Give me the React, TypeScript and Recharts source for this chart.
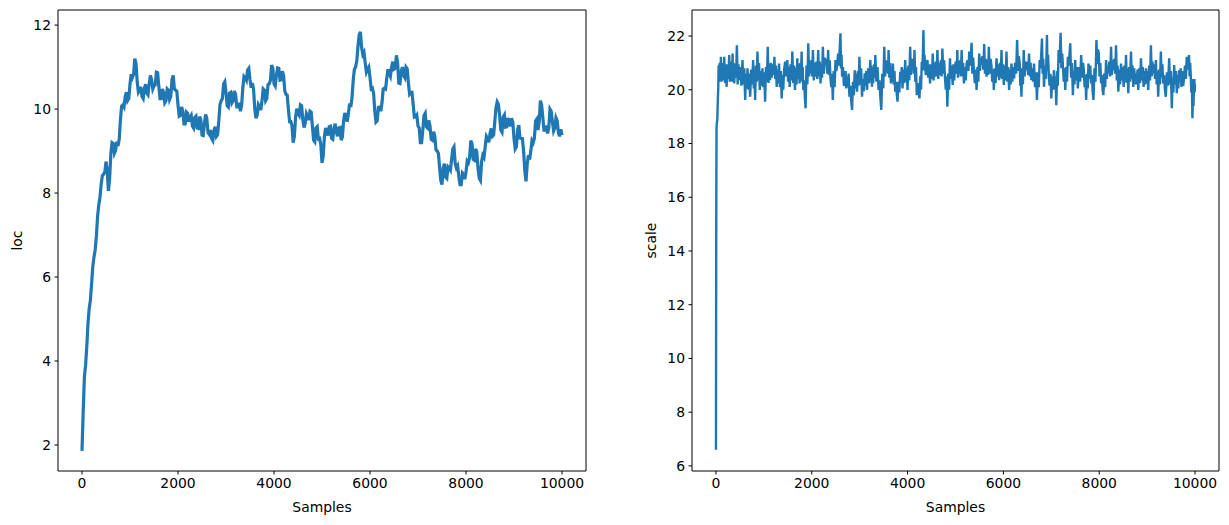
import React from 'react';
import { LineChart, Line, XAxis, YAxis, ReferenceLine } from 'recharts';

// ---- data ----
const SAMPLE_STEP = 25;
const locValues = [
  1.86, 2.8, 3.62, 3.9, 4.35, 4.9, 5.25, 5.45, 5.85, 6.25, 6.48, 6.65, 6.98, 7.45, 7.72, 7.9, 8.22, 8.42, 8.45, 8.5,
  8.75, 8.55, 8.05, 8.34, 8.92, 9.2, 9.18, 8.95, 9.02, 9.22, 9.12, 9.28, 9.74, 10.07, 10.1, 10.05, 10.3, 10.4, 10.2, 10.25,
  10.6, 10.83, 10.75, 10.83, 11.2, 11.08, 10.65, 10.4, 10.45, 10.53, 10.3, 10.25, 10.5, 10.59, 10.38, 10.34, 10.6, 10.8, 10.7, 10.48,
  10.55, 10.57, 10.88, 10.87, 10.55, 10.25, 10.25, 10.48, 10.4, 10.15, 10.2, 10.48, 10.45, 10.23, 10.3, 10.7, 10.8, 10.48, 10.45, 10.43,
  10.1, 9.83, 9.85, 10.05, 9.95, 9.65, 9.65, 9.93, 9.9, 9.7, 9.8, 9.85, 9.6, 9.55, 9.8, 9.83, 9.55, 9.54, 9.82, 9.75,
  9.38, 9.37, 9.65, 9.87, 9.78, 9.44, 9.4, 9.5, 9.3, 9.25, 9.5, 9.58, 9.35, 9.39, 9.72, 10.11, 10.2, 10.25, 10.6, 10.65,
  10.4, 10.08, 10.05, 10.38, 10.4, 10.15, 10.2, 10.43, 10.35, 10.05, 10.05, 10.15, 9.95, 10.08, 10.5, 10.78, 10.75, 10.69, 10.93, 10.97,
  10.7, 10.51, 10.62, 10.46, 10.0, 9.78, 9.86, 10.11, 10.06, 9.98, 10.2, 10.48, 10.45, 10.2, 10.25, 10.58, 10.6, 10.68, 11.05, 10.98,
  10.6, 10.55, 10.8, 10.98, 10.97, 10.69, 10.7, 10.9, 10.8, 10.43, 10.35, 10.33, 10.0, 9.7, 9.7, 9.6, 9.2, 9.36, 9.82, 10.01,
  9.9, 9.85, 10.1, 10.08, 9.75, 9.56, 9.66, 9.89, 9.82, 9.74, 9.95, 9.93, 9.6, 9.26, 9.22, 9.55, 9.58, 9.29, 9.3, 9.16,
  8.72, 8.88, 9.34, 9.55, 9.45, 9.37, 9.58, 9.59, 9.3, 9.28, 9.55, 9.65, 9.45, 9.35, 9.55, 9.56, 9.26, 9.34, 9.72, 9.91,
  9.8, 9.7, 9.9, 10.13, 10.05, 10.27, 10.69, 10.95, 11.0, 11.15, 11.5, 11.77, 11.84, 11.47, 11.3, 11.35, 11.1, 10.88, 10.95, 11.0,
  10.75, 10.48, 10.5, 10.38, 9.95, 9.69, 9.72, 10.04, 10.05, 9.95, 10.15, 10.48, 10.5, 10.48, 10.75, 10.95, 10.85, 10.78, 11.0, 11.13,
  10.95, 10.97, 11.28, 11.1, 10.62, 10.61, 10.9, 11.0, 10.8, 10.75, 11.0, 10.96, 10.62, 10.36, 10.4, 10.4, 10.1, 9.81, 9.82, 9.86,
  9.6, 9.55, 9.2, 9.2, 9.5, 9.85, 9.9, 9.58, 9.55, 9.73, 9.6, 9.28, 9.26, 9.46, 9.35, 9.03, 9.0, 8.95, 8.6, 8.3,
  8.2, 8.6, 8.7, 8.38, 8.35, 8.63, 8.6, 8.55, 8.8, 9.05, 9.1, 8.7, 8.6, 8.65, 8.4, 8.2, 8.2, 8.48, 8.45, 8.33,
  8.5, 8.76, 8.72, 8.84, 9.25, 9.18, 8.8, 8.78, 9.05, 8.98, 8.6, 8.35, 8.3, 8.75, 8.9, 8.85, 9.1, 9.35, 9.3, 9.21,
  9.42, 9.54, 9.35, 9.38, 9.7, 10.04, 10.17, 10.11, 9.85, 9.5, 9.45, 9.81, 9.86, 9.57, 9.58, 9.79, 9.7, 9.59, 9.78, 9.69,
  9.3, 9.05, 9.1, 9.51, 9.62, 9.31, 9.3, 9.3, 9.0, 8.54, 8.28, 8.69, 8.9, 8.8, 9.0, 9.25, 9.2, 9.31, 9.72, 9.76,
  9.5, 9.7, 10.2, 10.1, 9.8, 9.5, 9.5, 9.61, 9.42, 9.56, 10.0, 9.95, 9.7, 9.48, 9.55, 9.79, 9.72, 9.44, 9.35, 9.52,
  9.38,
];

// read peaks/troughs of the scale trace
const scaleSamples = [
  0, 18, 49, 69, 104, 139, 173, 222, 277, 312,
  347, 381, 437, 485, 554, 610, 658, 714, 776, 818,
  866, 915, 970, 1026, 1081, 1130, 1178, 1220, 1268, 1317,
  1372, 1421, 1490, 1538, 1594, 1649, 1698, 1746, 1788, 1823,
  1871, 1927, 1975, 2024, 2079, 2134, 2183, 2231, 2287, 2342,
  2391, 2439, 2495, 2550, 2599, 2633, 2689, 2737, 2786, 2841,
  2897, 2945, 2994, 3049, 3105, 3153, 3222, 3257, 3292, 3326,
  3395, 3451, 3513, 3569, 3603, 3652, 3694, 3742, 3790, 3846,
  3894, 3950, 3998, 4054, 4102, 4144, 4192, 4248, 4296, 4331,
  4365, 4414, 4469, 4525, 4573, 4622, 4677, 4726, 4781, 4830,
  4885, 4941, 4989, 5038, 5079, 5128, 5176, 5232, 5287, 5336,
  5384, 5440, 5495, 5544, 5599, 5648, 5696, 5752, 5800, 5856,
  5911, 5960, 6008, 6064, 6119, 6168, 6223, 6286, 6341, 6376,
  6424, 6480, 6535, 6584, 6639, 6700, 6757, 6805, 6847, 6909,
  6944, 7000, 7055, 7104, 7152, 7194, 7243, 7291, 7346, 7395,
  7450, 7499, 7554, 7623, 7679, 7727, 7776, 7831, 7880, 7942,
  7991, 8039, 8087, 8143, 8191, 8247, 8295, 8351, 8399, 8455,
  8510, 8559, 8607, 8663, 8711, 8767, 8815, 8871, 8926, 8975,
  9023, 9079, 9127, 9183, 9231, 9286, 9335, 9390, 9460, 9515,
  9564, 9619, 9667, 9716, 9772, 9827, 9875, 9910, 9945, 9979,
  9999,
];

const scaleValues = [
  6.6, 18.75, 20.11, 20.86, 21.23, 20.55, 21.23, 20.11, 21.29, 20.61,
  21.35, 20.24, 21.66, 20.36, 21.11, 19.62, 20.8, 19.74, 21.11, 19.62,
  21.42, 19.99, 20.8, 19.56, 21.6, 20.36, 20.86, 21.23, 20.11, 20.98,
  19.68, 20.73, 21.11, 20.11, 21.42, 19.99, 21.17, 20.24, 21.42, 19.99,
  19.31, 21.73, 20.61, 21.48, 20.49, 21.48, 20.24, 21.6, 20.92, 21.48,
  20.42, 19.62, 21.11, 21.35, 22.1, 20.49, 20.24, 20.49, 19.74, 19.25,
  20.73, 19.93, 21.23, 19.74, 20.61, 19.99, 21.11, 20.11, 20.61, 21.29,
  19.99, 19.25, 21.6, 20.86, 21.48, 20.24, 20.98, 19.93, 19.56, 20.67,
  20.05, 21.11, 19.99, 21.6, 20.86, 21.48, 19.8, 19.68, 21.04, 22.22,
  20.86, 21.11, 20.24, 21.35, 20.49, 21.48, 20.55, 21.54, 20.42, 19.37,
  21.17, 20.18, 20.86, 21.48, 20.61, 21.48, 20.24, 20.98, 21.42, 21.75,
  20.73, 19.99, 21.35, 20.98, 21.7, 20.49, 21.6, 20.86, 19.99, 21.17,
  20.36, 21.48, 20.18, 21.42, 19.99, 20.98, 20.42, 21.85, 20.98, 19.74,
  21.48, 20.73, 21.35, 20.36, 20.98, 19.62, 21.11, 21.91, 20.11, 22.04,
  20.73, 19.68, 20.73, 19.43, 21.48, 22.12, 20.86, 19.99, 21.23, 21.73,
  19.8, 21.11, 20.05, 21.29, 20.73, 19.62, 20.98, 20.24, 19.62, 21.85,
  21.35, 20.24, 19.8, 21.11, 20.61, 21.6, 20.73, 21.66, 19.93, 20.98,
  20.11, 21.29, 19.87, 21.42, 20.11, 20.61, 19.99, 21.17, 20.11, 20.8,
  19.99, 21.66, 20.61, 21.11, 19.74, 21.42, 20.24, 19.74, 21.17, 19.31,
  20.92, 19.87, 20.73, 20.11, 20.49, 21.23, 21.29, 20.55, 18.94, 20.3,
  20.2,
];

// two faster wiggles read inside the dense band between consecutive peaks/troughs
const scaleBetween = [
  15.0, 18.6, 18.9, 19.6, 20.9, 20.3, 21.0, 20.5, 20.3, 20.9, 21.0, 20.35, 20.25, 20.95, 20.95, 20.4, 20.3, 21.0, 21.05, 20.3,
  20.45, 21.0, 20.95, 20.45, 20.2, 20.95, 20.85, 20.15, 20.2, 20.8, 20.6, 20.05, 20.0, 20.6, 20.75, 20.2, 20.05, 20.7, 20.9, 20.3,
  20.35, 21.0, 20.7, 20.15, 20.1, 20.65, 20.85, 20.3, 20.25, 20.95, 21.0, 20.45, 20.95, 20.55, 20.4, 20.9, 20.75, 20.25, 20.1, 20.7,
  20.55, 20.0, 21.05, 20.5, 20.3, 20.85, 20.95, 20.35, 20.25, 20.9, 20.8, 20.2, 20.4, 20.95, 21.0, 20.45, 20.3, 20.85, 20.35, 19.75,
  20.9, 20.2, 20.5, 21.1, 21.1, 20.5, 20.35, 21.0, 21.05, 20.4, 20.5, 21.05, 20.95, 20.45, 20.6, 21.2, 21.15, 20.6, 20.55, 21.1,
  20.1, 20.6, 20.7, 20.1, 20.7, 20.95, 20.9, 21.5, 20.8, 21.3, 20.85, 20.15, 20.7, 20.05, 20.1, 20.6, 20.15, 19.6, 20.3, 19.8,
  20.05, 20.6, 20.7, 20.15, 20.2, 20.8, 20.4, 19.95, 20.15, 20.7, 20.8, 20.25, 20.35, 20.9, 20.8, 20.25, 20.95, 20.45, 20.3, 20.85,
  20.35, 19.7, 20.6, 20.05, 20.5, 21.1, 21.1, 20.6, 20.45, 21.0, 20.8, 20.3, 20.2, 20.7, 20.3, 19.85, 20.3, 19.9, 20.3, 20.85,
  20.75, 20.25, 20.3, 20.8, 20.9, 20.35, 20.55, 21.15, 21.15, 20.6, 20.3, 20.85, 20.25, 19.95, 20.5, 20.0, 20.7, 21.3, 20.75, 21.3,
  20.55, 20.95, 20.45, 20.95, 20.95, 20.4, 20.35, 21.0, 21.05, 20.5, 20.4, 21.0, 21.1, 20.5, 20.6, 21.1, 20.0, 20.5, 20.6, 20.0,
  20.4, 20.9, 20.95, 20.35, 21.05, 20.6, 20.45, 21.05, 21.1, 20.5, 20.5, 21.0, 20.85, 20.35, 21.1, 20.7, 20.9, 21.3, 20.6, 21.2,
  20.25, 20.75, 20.85, 20.3, 20.7, 21.2, 21.25, 20.75, 20.6, 21.15, 21.1, 20.55, 20.6, 21.15, 20.3, 20.75, 20.8, 20.25, 20.5, 20.95,
  21.0, 20.45, 20.4, 20.95, 20.9, 20.35, 20.3, 20.85, 20.75, 20.2, 20.3, 20.85, 21.0, 20.6, 20.7, 21.25, 20.15, 20.7, 20.8, 20.2,
  20.5, 21.05, 21.05, 20.55, 20.5, 21.0, 20.8, 20.3, 20.1, 20.65, 20.65, 20.1, 20.8, 21.3, 20.6, 21.15, 20.9, 20.4, 20.8, 21.3,
  20.15, 20.6, 20.5, 20.0, 20.0, 20.5, 20.7, 20.15, 21.0, 21.45, 20.8, 21.35, 20.3, 20.8, 20.85, 20.3, 20.9, 21.3, 20.45, 21.0,
  20.7, 20.2, 20.35, 20.85, 20.85, 20.3, 20.45, 21.0, 20.1, 20.55, 20.6, 20.05, 20.4, 20.9, 20.55, 19.9, 20.8, 20.3, 20.95, 21.5,
  20.5, 21.0, 20.55, 20.0, 20.6, 20.1, 20.4, 20.9, 21.05, 20.5, 20.55, 21.1, 21.15, 20.6, 20.35, 20.9, 20.75, 20.2, 20.35, 20.85,
  20.9, 20.3, 20.25, 20.8, 20.85, 20.3, 20.4, 20.9, 20.8, 20.2, 20.2, 20.75, 20.8, 20.25, 20.35, 20.85, 20.7, 20.2, 20.25, 20.7,
  20.9, 20.35, 20.5, 21.05, 20.95, 20.4, 20.2, 20.7, 20.75, 20.2, 20.45, 20.95, 20.55, 20.0, 20.65, 20.15, 20.2, 20.7, 20.45, 19.9,
  20.2, 20.7, 20.55, 20.05, 20.3, 20.8, 20.7, 20.15, 20.9, 20.4, 20.75, 21.0, 20.5, 21.0, 19.9, 20.4, 19.8, 19.4, 20.4, 19.9,
];

const xTicks = [0, 2000, 4000, 6000, 8000, 10000];
const locTicks = [2, 4, 6, 8, 10, 12];
const scaleTicks = [6, 8, 10, 12, 14, 16, 18, 20, 22];
const xDomain: [number, number] = [-500, 10500];
const locDomain: [number, number] = [1.38, 12.36];
const scaleDomain: [number, number] = [5.81, 22.97];

const locData = locValues.map((v, i) => ({ sample: i * SAMPLE_STEP, value: v }));

const scaleData: { sample: number; value: number }[] = [];
scaleSamples.forEach((s, i) => {
  scaleData.push({ sample: s, value: scaleValues[i] });
  if (i < scaleSamples.length - 1) {
    const next = scaleSamples[i + 1];
    const gap = next - s;
    scaleData.push({ sample: s + gap / 3, value: scaleBetween[2 * i] });
    scaleData.push({ sample: s + (2 * gap) / 3, value: scaleBetween[2 * i + 1] });
  }
});

// ---- styling ----
const FONT = '"DejaVu Sans", sans-serif';
const FS = 13.9;
const BLUE = '#1f77b4';
const tickStyle = { fill: '#000', fontSize: FS, fontFamily: FONT };

const YTitle = (props: any) => {
  const vb = props.viewBox || {};
  const cx = vb.x + 17;
  const cy = vb.y + vb.height / 2;
  return (
    <text x={cx} y={cy} transform={`rotate(-90 ${cx} ${cy})`} textAnchor="middle"
      dominantBaseline="central" fill="#000" fontSize={FS} fontFamily={FONT}>
      {props.text}
    </text>
  );
};

const XTitle = (props: any) => {
  const vb = props.viewBox || {};
  return (
    <text x={vb.x + vb.width / 2} y={vb.y + 36} textAnchor="middle" dominantBaseline="central"
      fill="#000" fontSize={FS} fontFamily={FONT}>
      {props.text}
    </text>
  );
};

type PanelProps = {
  data: { sample: number; value: number }[];
  yDomain: [number, number];
  yTicks: number[];
  yLabel: string;
  width: number;
  rightMargin: number;
  lineWidth: number;
};

const TracePanel = ({ data, yDomain, yTicks, yLabel, width, rightMargin, lineWidth }: PanelProps) => (
  <LineChart width={width} height={525} data={data}
    margin={{ top: 10, right: rightMargin, left: 0, bottom: 0 }}>
    <XAxis dataKey="sample" type="number" domain={xDomain} ticks={xTicks} allowDataOverflow
      height={54} tick={tickStyle} tickSize={3.5} tickMargin={3.5}
      axisLine={{ stroke: '#000', strokeWidth: 1 }} tickLine={{ stroke: '#000', strokeWidth: 1 }}
      interval={0}
      label={<XTitle text="Samples" />} />
    <YAxis type="number" domain={yDomain} ticks={yTicks} allowDataOverflow
      width={58} tick={tickStyle} tickSize={3.5} tickMargin={3.5}
      axisLine={{ stroke: '#000', strokeWidth: 1 }} tickLine={{ stroke: '#000', strokeWidth: 1 }}
      interval={0}
      label={<YTitle text={yLabel} />} />
    <ReferenceLine y={yDomain[1]} stroke="#000" strokeWidth={1} ifOverflow="visible" />
    <ReferenceLine x={xDomain[1]} stroke="#000" strokeWidth={1} ifOverflow="visible" />
    <Line type="linear" dataKey="value" stroke={BLUE} strokeWidth={lineWidth} dot={false}
      isAnimationActive={false} strokeLinejoin="miter" strokeLinecap="butt" />
  </LineChart>
);

export default function App() {
  return (
    <div style={{ position: 'absolute', left: 0, top: 0, width: 1229, height: 525, background: '#fff' }}>
      <div style={{ position: 'absolute', left: 0, top: 0 }}>
        <TracePanel data={locData} yDomain={locDomain} yTicks={locTicks} yLabel="loc"
          width={600} rightMargin={14} lineWidth={3.2} />
      </div>
      <div style={{ position: 'absolute', left: 634, top: 0 }}>
        <TracePanel data={scaleData} yDomain={scaleDomain} yTicks={scaleTicks} yLabel="scale"
          width={595} rightMargin={10} lineWidth={2.4} />
      </div>
    </div>
  );
}
